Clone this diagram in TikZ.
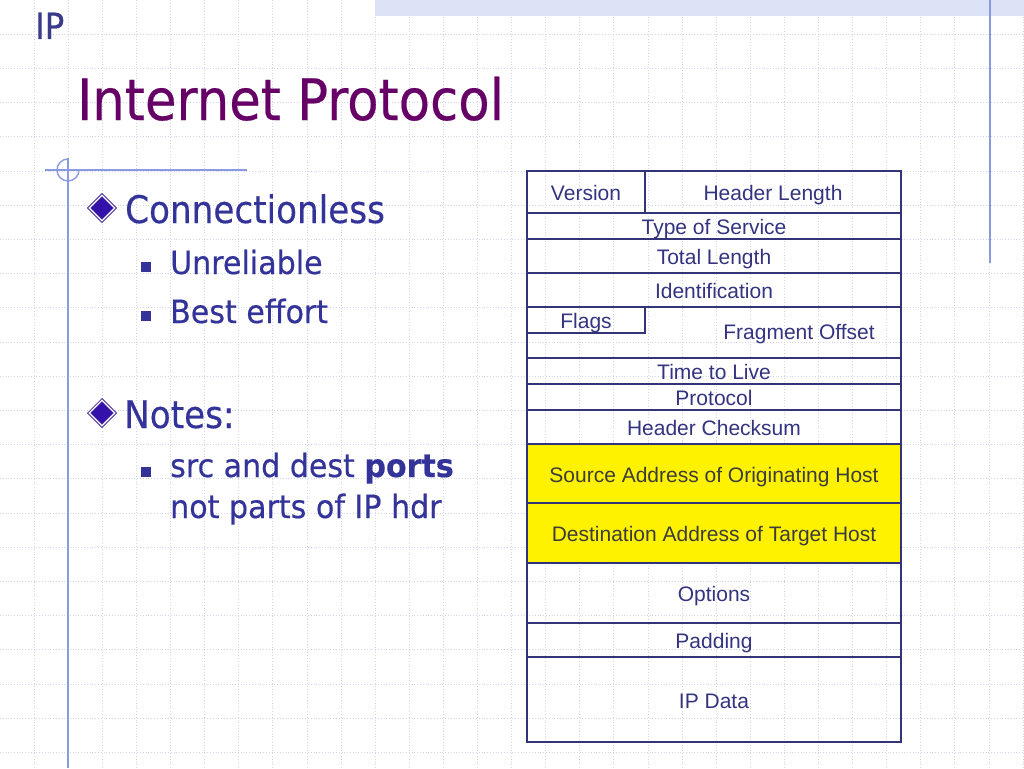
\documentclass[tikz,border=0pt]{standalone}
\usepackage{fontspec}
\setmainfont{Liberation Sans}
\newfontfamily\slidefont[FakeStretch=0.9, FakeBold=0.4]{DejaVu Sans}
\newfontfamily\itemfont[FakeStretch=0.94, FakeBold=0.4]{DejaVu Sans}
\usetikzlibrary{shapes.geometric}

\definecolor{gridline}{HTML}{D2D6EA}
\definecolor{bandblue}{HTML}{DCE3F6}
\definecolor{accent}{HTML}{8A9AE0}
\definecolor{titlepurple}{HTML}{660066}
\definecolor{bodyblue}{HTML}{333399}
\definecolor{chapblue}{HTML}{3B3B8C}
\definecolor{hdrline}{HTML}{333377}
\definecolor{fieldtext}{HTML}{333380}
\definecolor{addrtext}{HTML}{3C3C3C}
\definecolor{gemedge}{HTML}{4B2C9C}
\definecolor{gemfill}{HTML}{3311AA}

\begin{document}
\begin{tikzpicture}[x=1pt,y=-1pt,
  field/.style={draw=hdrline, line width=1.6pt, inner sep=0pt, text=fieldtext,
    font=\fontsize{21}{21}\selectfont, text height=17pt, text depth=0pt},
  addr/.style={field, fill=yellow, text=addrtext},
  label/.style={inner sep=0pt, text=fieldtext, font=\fontsize{21}{21}\selectfont,
    text height=17pt, text depth=0pt},
  topitem/.style={anchor=base west, inner sep=0pt, text=bodyblue,
    font=\slidefont\fontsize{38}{38}\selectfont},
  subitem/.style={anchor=base west, inner sep=0pt, text=bodyblue,
    font=\itemfont\fontsize{32}{32}\selectfont},
  gem/.style={diamond, shape aspect=1, inner sep=0pt, minimum width=26pt, minimum height=26pt,
    draw=gemedge, double=white, double distance=1.3pt, line width=0.9pt, fill=gemfill},
  square/.style={rectangle, inner sep=0pt, minimum size=10pt, fill=bodyblue}]

\useasboundingbox (0,0) rectangle (1024,768);
\fill[white] (0,0) rectangle (1024,768);

% background
\foreach \i in {1,...,30} \draw[gridline, dotted, line width=0.8pt] (34.1*\i,0) -- (34.1*\i,768);
\foreach \j in {1,...,22} \draw[gridline, dotted, line width=0.8pt] (0,34.2*\j) -- (1024,34.2*\j);
\fill[bandblue] (375,0) rectangle (1024,16);
\draw[accent, line width=1.4pt] (990,0) -- (990,263);
\draw[accent, line width=1.4pt] (45,170) -- (247,170);
\draw[accent, line width=1.4pt] (68,158) -- (68,768);
\draw[accent, line width=1.4pt] (79,170) arc[start angle=0, end angle=270, radius=11];

\node[anchor=base west, inner sep=0pt, text=chapblue, font=\slidefont\fontsize{36}{36}\selectfont] (chap) at (35,39) {IP};
\node[anchor=base west, inner sep=0pt, text=titlepurple, font=\slidefont\fontsize{57}{57}\selectfont] (title) at (77,120) {Internet Protocol};

\node[gem] (gem1) at (102,208) {};
\node[topitem] (conn) at (125,223) {Connectionless};
\node[square] (sq1) at (146,267) {};
\node[subitem] (unrel) at (170,274) {Unreliable};
\node[square] (sq2) at (146,316) {};
\node[subitem] (best) at (170,323) {Best effort};
\node[gem] (gem2) at (102,413) {};
\node[topitem] (notes) at (124,428) {Notes:};
\node[square] (sq3) at (146,472) {};
\node[subitem] (ports) at (170,477) {src and dest \textbf{ports}};
\node[subitem] (nohdr) at (170,518) {not parts of IP hdr};

% header fields
\node[field, minimum width=118pt, minimum height=42pt] (ver) at (586,192) {Version};
\node[field, minimum width=256pt, minimum height=42pt] (hlen) at (773,192) {Header Length};
\node[field, minimum width=374pt, minimum height=26pt] (tos) at (714,226) {Type of Service};
\node[field, minimum width=374pt, minimum height=34pt] (tlen) at (714,256) {Total Length};
\node[field, minimum width=374pt, minimum height=34pt] (ident) at (714,290) {Identification};
\node[field, minimum width=374pt, minimum height=51pt] (fragrow) at (714,332.5) {};
\node[field, minimum width=118pt, minimum height=26pt] (flags) at (586,320) {Flags};
\node[label] (frag) at (799,331) {Fragment Offset};
\node[field, minimum width=374pt, minimum height=26pt] (ttl) at (714,371) {Time to Live};
\node[field, minimum width=374pt, minimum height=26pt] (proto) at (714,397) {Protocol};
\node[field, minimum width=374pt, minimum height=34pt] (csum) at (714,427) {Header Checksum};
\node[addr, minimum width=374pt, minimum height=59pt] (src) at (714,473.5) {Source Address of Originating Host};
\node[addr, minimum width=374pt, minimum height=60pt] (dst) at (714,533) {Destination Address of Target Host};
\node[field, minimum width=374pt, minimum height=60pt] (opts) at (714,593) {Options};
\node[field, minimum width=374pt, minimum height=34pt] (pad) at (714,640) {Padding};
\node[field, minimum width=374pt, minimum height=85pt] (data) at (714,699.5) {IP Data};
\end{tikzpicture}
\end{document}
